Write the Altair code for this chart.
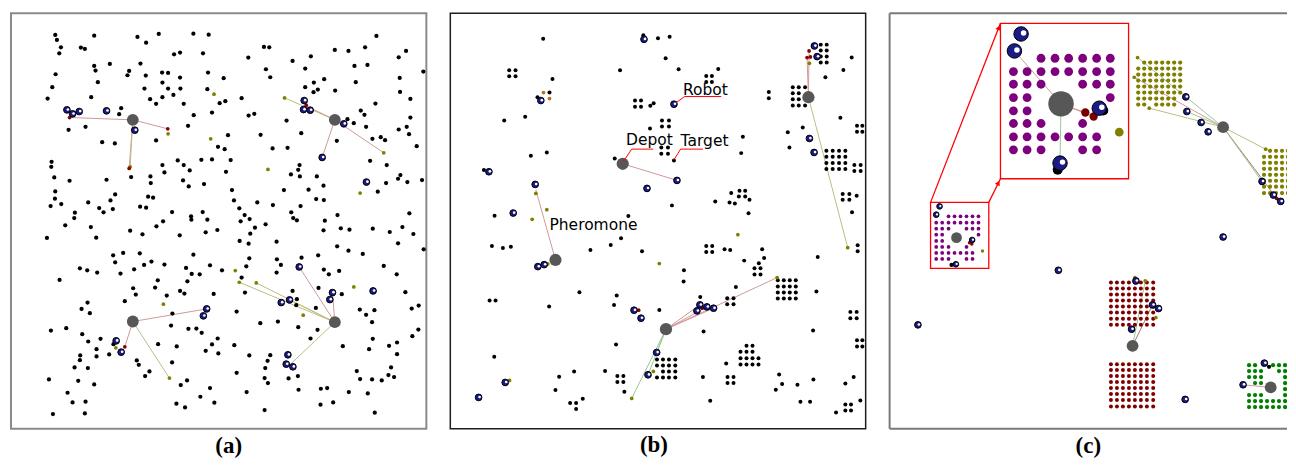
import math
import altair as alt
import pandas as pd

# Arena units: 3 units = 1 px. Panels are 1248 x 1248 units; panel (c) is cut at 1194 (the picture's edge).
W = 1248
H = 1248
WC = 1194

# ---------------- Panel (a) : random targets ----------------
A_DOTS = [
    (133,65),(138,80),(150,102),(145,120),(250,67),(210,103),(222,107),(380,71),(406,88),(444,62),(548,61),(594,64),
    (490,123),(508,118),(577,120),(297,152),(250,158),(254,172),(389,151),(355,173),(350,186),(405,187),(454,178),
    (472,179),(508,193),(134,183),(261,207),(124,222),(110,256),(241,252),(401,226),(455,208),(472,226),(509,226),
    (592,178),(590,228),(418,258),(436,272),(455,252),(488,245),(519,272),(627,270),(549,306),(604,298),(331,285),
    (325,303),(173,350),(224,341),(532,338),(274,387),(312,391),(436,382),(622,401),(122,446),(121,461),(455,456),
    (461,478),(501,442),(519,456),(537,472),(572,440),(604,439),(130,493),(176,503),(287,500),(361,492),(419,490),
    (420,510),(517,502),(534,520),(580,513),(133,535),(132,557),(119,579),(151,573),(313,544),(299,562),(232,568),
    (265,585),(278,598),(306,588),(388,581),(406,584),(412,551),(427,554),(192,599),(190,615),(484,597),(541,610),
    (542,620),(576,597),(590,620),(457,625),
    (1098,68),(760,101),(776,102),(713,133),(846,143),(901,129),(973,110),(1014,113),(1064,102),(1165,132),(1187,113),
    (766,168),(779,192),(884,166),(1032,158),(1071,155),(639,195),(1239,175),(910,208),(941,198),(884,222),(909,237),
    (922,229),(974,232),(1036,207),(1168,194),(1169,236),(1200,257),(693,255),(644,264),(714,307),(731,302),(828,322),
    (1051,292),(1062,305),(1011,318),(1030,330),(1067,341),(1095,271),(1200,313),(1165,349),(1189,341),(1196,363),
    (872,360),(750,365),(652,366),(979,383),(1086,377),(1111,372),(1124,381),(1219,399),(786,406),(831,404),(642,408),
    (660,441),(646,476),(1079,443),(1129,456),(867,456),(863,470),(841,484),(868,490),(919,490),(1170,486),(1163,497),
    (1191,507),(1235,501),(1127,510),(1102,536),(939,518),(894,530),(820,531),(664,531),(670,562),(740,568),(787,576),
    (870,579),(917,558),(940,561),(686,586),(702,606),(717,618),(690,625),(842,598),(848,615),(859,622),(981,606),
    (943,623),(1197,601),
    (163,637),(240,642),(358,653),(395,664),(437,640),(507,667),(585,658),(620,651),(108,675),(256,674),(307,727),
    (337,720),(387,721),(313,748),(329,782),(370,769),(400,756),(422,746),(461,755),(548,725),(526,765),(543,783),
    (567,784),(598,757),(207,766),(229,772),(259,779),(146,801),(530,805),(441,802),(433,824),(468,848),(508,834),
    (521,842),(609,843),(367,826),(375,845),(342,865),(230,869),(212,888),(237,901),(485,902),(166,946),(120,953),
    (214,964),(269,978),(232,986),(481,938),(533,948),(557,947),(573,960),(621,977),(604,995),(585,1014),(623,1022),
    (442,994),(498,1001),(257,1009),(257,1031),(208,1028),(207,1042),(295,1025),(308,994),(378,1043),(384,1056),
    (231,1066),(191,1064),(416,1076),(403,1090),(484,1049),(202,1104),(114,1100),(250,1115),(170,1140),(510,1117),
    (529,1103),(598,1126),(185,1169),(224,1167),(569,1152),(611,1170),(497,1173),(523,1184),(126,1204),(222,1202),
    (733,644),(765,634),(719,662),(939,652),(991,646),(1017,650),(1087,647),(1138,657),(1176,642),(1209,663),(687,684),
    (714,692),(798,686),(980,700),(1014,713),(1057,723),(1163,691),(1240,709),(634,772),(707,760),(716,736),(799,739),
    (811,756),(798,779),(873,734),(923,727),(940,770),(955,784),(986,774),(1120,759),(1159,784),(693,794),(703,839),
    (846,834),(859,859),(994,844),(924,825),(916,885),(857,877),(1048,890),(1067,906),(1092,892),(1085,928),
    (1185,838),(1204,887),(1225,878),(678,896),(749,931),(802,926),(863,943),(921,951),(900,977),(997,1000),(1087,978),
    (1076,1009),(1136,999),(1160,989),(1160,1024),(1206,970),(1224,950),(671,997),(716,1028),(779,1027),(771,1044),
    (764,1066),(678,1080),(762,1096),(772,1111),(862,1090),(834,1097),(864,1131),(931,1128),(950,1126),(1015,1138),
    (1039,1075),(1049,1099),(1085,1100),(1114,1103),(1134,1087),(1151,1093),(1142,1064),(1072,1142),(708,1138),
    (930,1176),(968,1169),(762,1192),(1093,1200),
]
A_ROBOTS = [(168,290),(185,302),(205,295),(287,293),(372,351),(881,262),(879,289),(899,291),(1000,332),(935,433),
            (1068,507),(316,984),(331,1018),(588,888),(578,909),(866,762),(966,839),(958,860),(837,861),(812,869),
            (1088,834),(832,1026),(827,1054),(847,1062)]
A_DEPOTS = [(366,320),(973,320),(366,926),(973,928)]
A_PHEROMONE = [(610,243),(472,362),(600,377),(358,461),(822,254),(772,469),(1120,419),(1049,540),(458,874),
               (476,1096),(315,1005),(674,773),(686,808),(737,810),(1030,822),(878,907)]
A_RED = [(176,313),(471,347),(355,466),(887,276),(342,1002)]
A_TRAILS = [
    (366,320,176,313,"red"),(366,320,471,347,"red"),(366,320,355,466,"red"),(366,320,358,461,"olive"),
    (973,320,822,254,"olive"),(973,320,881,275,"red"),(973,320,1120,419,"red"),(973,320,935,433,"red"),
    (366,926,588,888,"red"),(366,926,342,1002,"red"),(366,926,476,1096,"olive"),
    (973,928,866,762,"red"),(973,928,966,839,"red"),(973,928,686,808,"olive"),(973,928,737,810,"olive"),
    (973,928,837,861,"olive"),(973,928,840,1054,"olive"),
]

# ---------------- Panel (b) : clustered targets ----------------
B_DOTS = [
    (279,76),(177,171),(196,171),(177,189),(196,189),(307,197),(262,252),(298,238),(510,171),(555,262),(573,262),
    (555,281),(573,281),(601,278),(611,270),(600,346),(162,322),(225,311),(242,428),(290,418),(494,436),(101,471),
    (133,608),(535,609),(580,66),(624,75),
    (659,70),(647,135),(686,168),(805,167),(769,188),(786,188),(769,206),(786,206),(957,236),(957,255),(636,322),
    (657,322),(636,340),(657,340),(634,403),(654,403),(634,422),(654,422),(879,371),(874,420),(1014,357),(1059,343),
    (1019,403),(1172,314),(1206,133),(1181,170),(1127,192),(672,442),(666,577),(796,565),(839,568),(855,571),
    (844,540),(869,533),(886,533),(867,550),(886,550),(899,560),(896,601),(1179,543),(1199,543),(1179,560),(1199,560),
    (1221,548),(1207,598),
    (1029,222),(1047,222),(1066,222),(1029,240),(1047,240),(1029,258),(1047,258),(1029,277),(1047,277),(1066,277),
    (1113,94),(1131,94),(1113,112),(1131,112),(1113,130),(1131,130),(1113,148),(1131,148),
    (1130,413),(1149,413),(1168,413),(1187,413),(1130,431),(1149,431),(1168,431),(1187,431),
    (1130,450),(1149,450),(1168,450),(1187,450),(1130,468),(1149,468),(1168,468),(1187,468),
    (1214,456),(1233,456),(1214,474),(1233,474),(1222,338),(1238,338),(1222,356),(1238,356),
    (125,699),(158,705),(182,701),(421,711),(482,696),(513,676),(576,715),(118,863),(136,863),(297,881),(388,838),
    (500,848),(492,876),(628,891),(498,995),(132,1032),(372,1076),(465,1075),(327,1092),(316,1132),(502,1090),
    (520,1090),(502,1108),(520,1108),(523,1137),(360,1171),(378,1171),(378,1189),(398,1158),
    (621,1040),(639,1040),(657,1040),(676,1040),(621,1058),(639,1058),(657,1058),(676,1058),(639,1076),(657,1076),
    (676,1076),(621,1094),(639,1094),(657,1094),(676,1094),
    (769,699),(787,699),(769,717),(787,717),(824,709),(841,711),(937,709),(943,735),(927,751),(883,743),(914,766),
    (932,766),(914,785),(932,785),(702,772),(701,806),(751,852),(858,822),(832,856),(851,856),(832,874),(851,874),
    (761,956),(1104,732),(1100,836),(1090,953),(1224,697),(1224,715),(1202,897),(1221,897),(1202,916),(1221,916),
    (1222,982),(1238,982),(1222,1001),(1238,1001),(829,1052),(759,1093),(833,1093),(851,1093),(833,1111),(851,1111),
    (781,1164),(988,1085),(997,1114),(978,1131),(1043,1116),(1091,1100),(1052,1167),(1081,1167),(1212,1093),
    (1187,1112),(1232,1163),(1187,1175),(1204,1175),(1187,1193),(1204,1193),(1159,1199),
    (984,802),(1002,802),(1020,802),(1038,802),(984,821),(1002,821),(1020,821),(1038,821),
    (984,839),(1002,839),(1020,839),(1038,839),(984,857),(1002,857),(1020,857),(1038,857),
    (890,999),(908,999),(872,1017),(890,1017),(908,1017),(872,1036),(890,1036),(908,1036),(926,1036),
    (872,1055),(890,1055),(908,1055),(926,1055),
]
B_ROBOTS = [(582,78),(272,262),(116,476),(255,514),(189,600),(591,526),(672,273),(681,502),(1079,376),(1093,418),
            (1094,98),(1102,130),(263,761),(282,755),(165,1109),(85,1154),(552,892),(573,916),(620,1019),(594,1086),
            (750,876),(741,894),(771,882),(791,886)]
B_DEPOTS = [(518,452),(1076,252),(316,741),(648,949)]
B_PHEROMONE = [(257,541),(290,590),(246,619),(1079,150),(293,753),(178,1103),(610,1076),(545,1157),(628,752),
               (864,665),(982,794),(1194,704)]
B_RED = [(1078,113),(1072,133),(1082,131),(566,892),(757,886)]
B_BROWN = [(280,238),(298,256)]
B_TRAILS = [
    (518,452,681,502,"red"),(316,741,257,530,"red"),
    (1076,252,1078,113,"red"),(1076,252,1072,133,"red"),(1076,252,1194,704,"olive"),
    (648,949,982,794,"red"),(648,949,750,876,"red"),(648,949,771,882,"red"),(648,949,791,886,"red"),
    (648,949,545,1157,"green"),(648,949,594,1086,"green"),(648,949,620,1019,"green"),
]
B_LABELS = [("Robot",699,230),("Depot",528,382),("Target",692,385),("Pheromone",298,636)]
B_LEADERS = [
    ("Robot",[(679,268),(704,250),(814,250)]),
    ("Target",[(672,440),(692,408),(759,408)]),
    ("Depot",[(520,445),(545,408),(610,408)]),
]

# ---------------- Panel (c) : heterogeneous target clusters ----------------
C_MASK_PURPLE = ["00111111","11111111","11100111","11000001","11000000","11100100","11111110","11100110"]
C_INSET_COLS = [372,413,455,497,538,580,622,663]
C_INSET_ROWS = [135,175,213,253,293,331,371,410]
C_SMALL_COLS = [140,158,177,195,213,231,249,267]
C_SMALL_ROWS = [610,629,647,665,684,702,720,738]

C_MASK_OLIVE1 = ["01111111","11111111","11111111","11111111","11111111","11111111","11111110","11011110"]
C_OLIVE1_COLS = [747,765,783,801,819,837,855,873]
C_OLIVE1_ROWS = [148,166,184,202,220,238,256,274]
C_MASK_OLIVE2 = ["01111","11111","11111","11111","11111","11111","11111","11111"]
C_OLIVE2_COLS = [1125,1143,1161,1179,1197]
C_OLIVE2_ROWS = [413,431,449,467,485,503,521,540]
C_MAROON_COLS = [665,683,701,719,737,755,773,792]
C_MAROON1_ROWS = [809,827,845,863,881,899,918,936]
C_MAROON2_ROWS = [1054,1072,1090,1108,1126,1144,1162,1181]
C_MASK_GREEN = ["11001111","11100111","11100011","01100011","00000011","11100011","11111111","11111111"]
C_GREEN_COLS = [1080,1098,1116,1134,1152,1170,1188,1206]
C_GREEN_ROWS = [1057,1075,1093,1111,1129,1147,1165,1183]

C_ROBOTS = [(507,772),(85,936),(890,251),(893,295),(936,328),(957,356),(1119,505),(1153,546),(1175,565),
            (1002,672),(1212,814),(740,804),(790,876),(808,887),(727,949),(888,1160),(1126,1051),(1062,1116)]
C_DEPOTS = [(1002,342),(730,999),(1145,1124)]
C_PHEROMONE = [(745,133),(735,192),(780,285),(1130,408),(737,794),(768,804),(800,914)]
C_RED = [(1163,556)]
C_BLACK = [(1140,1062)]
C_TRAILS = [
    (1002,342,745,133,"green"),(1002,342,735,192,"red"),(1002,342,780,285,"olive"),(1002,342,893,295,"green"),
    (1002,342,1130,408,"olive"),(1002,342,1163,556,"brown"),(1002,342,1119,505,"green"),
    (730,999,768,804,"green"),(730,999,790,876,"brown"),(1145,1124,1062,1116,"red"),
    (201,674,199,754,"green"),(201,674,140,605,"red"),(201,674,240,689,"red"),
    (515,272,375,113,"red"),(515,272,512,440,"green"),(515,272,588,298,"red"),(515,272,613,310,"red"),
]
C_SMALL_DEPOT = [(201,674)]
C_SMALL_ROBOTS = [(248,681),(199,754),(150,580),(140,605)]
C_SMALL_BLACK = [(186,756)]
C_SMALL_RED = [(240,689),(247,693)]
C_SMALL_OLIVE = [(279,714)]
C_INSET_DEPOT = [(515,272)]
C_INSET_ROBOTS = [(395,62),(375,113),(512,450),(630,285)]
C_INSET_BLACK = [(505,470),(642,292)]
C_INSET_RED = [(588,298),(613,310)]
C_INSET_OLIVE = [(690,357)]
C_SMALL_BOX = [(123,568,298,766)]
C_INSET_BOX = [(333,30,718,497)]
C_CONNECTORS = [(123,568,333,30),(298,568,333,497)]

TRAIL_KINDS = ["red","olive","green","brown"]
TRAIL_COLORS = ["#d09a9a","#bdbd84","#96c896","#a87a5a"]
NAVY = "#1b1b85"


def pts(lst):
    return pd.DataFrame(lst, columns=["x","y"])


def X(xmax):
    return alt.X("x:Q", scale=alt.Scale(domain=[0, xmax], nice=False, zero=False), axis=None)


def Y():
    return alt.Y("y:Q", scale=alt.Scale(domain=[0, H], nice=False, zero=False, reverse=True), axis=None)


def dots(lst, xmax, color, size, clip=False):
    return alt.Chart(pts(lst)).mark_circle(color=color, size=size, opacity=1, clip=clip).encode(x=X(xmax), y=Y())


def robots(lst, xmax, size, hl, off, clip=False):
    df = pts(lst)
    body = alt.Chart(df).mark_point(shape="circle", filled=True, fill=NAVY, stroke="#000000",
                                    strokeWidth=1, size=size, opacity=1, clip=clip).encode(x=X(xmax), y=Y())
    hi = alt.Chart(df).mark_circle(color="white", size=hl, opacity=1, xOffset=off, yOffset=-off * 0.4,
                                   clip=clip).encode(x=X(xmax), y=Y())
    return [body, hi]


def trails(lst, xmax, width=1.0, clip=False):
    df = pd.DataFrame(lst, columns=["x","y","x2","y2","kind"])
    return alt.Chart(df).mark_rule(strokeWidth=width, clip=clip).encode(
        x=X(xmax), y=Y(), x2="x2:Q", y2="y2:Q",
        color=alt.Color("kind:N", scale=alt.Scale(domain=TRAIL_KINDS, range=TRAIL_COLORS), legend=None))


def frame(xmax, color, width):
    df = pd.DataFrame({"x":[0], "y":[0], "x2":[W], "y2":[H]})
    return alt.Chart(df).mark_rect(fillOpacity=0, stroke=color, strokeWidth=width).encode(
        x=X(xmax), y=Y(), x2="x2:Q", y2="y2:Q")


def grid(cols, rows, mask=None):
    out = []
    for r, yv in enumerate(rows):
        for c, xv in enumerate(cols):
            if mask is None or mask[r][c] == "1":
                out.append((xv, yv))
    return out


def caption(text, dx):
    return alt.TitleParams(text, orient="bottom", anchor="middle", font="Liberation Serif", fontSize=23,
                           fontWeight="bold", color="#000000", offset=5, dx=dx)


# ----- panel a
pa = alt.layer(
    frame(W, "#8a8a8a", 2),
    trails(A_TRAILS, W),
    dots(A_DOTS, W, "#000000", 18),
    dots(A_PHEROMONE, W, "#808000", 14),
    dots(A_RED, W, "#8b0000", 14),
    dots(A_DEPOTS, W, "#575757", 140),
    *robots(A_ROBOTS, W, 45, 7, 1.0),
).properties(width=416, height=416, title=caption("(a)", 10))

# ----- panel b
lab_df = pd.DataFrame(B_LABELS, columns=["text","x","y"])
lead_rows = []
for name, seg in B_LEADERS:
    for i, (xv, yv) in enumerate(seg):
        lead_rows.append({"lab": name, "o": i, "x": xv, "y": yv})
lead_df = pd.DataFrame(lead_rows)

pb = alt.layer(
    frame(W, "#1e1e1e", 1.5),
    trails(B_TRAILS, W),
    dots(B_DOTS, W, "#000000", 16),
    dots(B_PHEROMONE, W, "#808000", 14),
    dots(B_RED, W, "#8b0000", 14),
    dots(B_BROWN, W, "#b5731f", 14),
    dots(B_DEPOTS, W, "#575757", 150),
    *robots(B_ROBOTS, W, 45, 7, 1.0),
    alt.Chart(lead_df).mark_line(color="#ff0000", strokeWidth=1).encode(x=X(W), y=Y(), detail="lab:N", order="o:Q"),
    alt.Chart(lab_df).mark_text(font="DejaVu Sans", fontSize=15.5, align="left", baseline="middle",
                                color="#000000").encode(x=X(W), y=Y(), text="text:N"),
).properties(width=416, height=416, title=caption("(b)", -4))

# ----- panel c
border_df = pd.DataFrame({"x":[0, 0, 0], "y":[0, 0, H], "x2":[WC, 0, WC], "y2":[0, H, H]})
small_box = pd.DataFrame(C_SMALL_BOX, columns=["x","y","x2","y2"])
inset_box = pd.DataFrame(C_INSET_BOX, columns=["x","y","x2","y2"])
conn_df = pd.DataFrame(C_CONNECTORS, columns=["x","y","x2","y2"])
heads = []
for x0, y0, x1, y1 in C_CONNECTORS:
    dxp, dyp = x1 - x0, y1 - y0
    ln = math.hypot(dxp, dyp)
    ang = math.degrees(math.atan2(dxp, -dyp)) % 360
    heads.append({"x": x1 - dxp / ln * 14, "y": y1 - dyp / ln * 14, "a": ang})
head_df = pd.DataFrame(heads)

pc = alt.layer(
    alt.Chart(border_df).mark_rule(color="#7a7a7a", strokeWidth=2).encode(x=X(WC), y=Y(), x2="x2:Q", y2="y2:Q"),
    trails([t for t in C_TRAILS if t[0] > 700 or t[1] > 600], WC, clip=True),
    alt.Chart(conn_df).mark_rule(color="#ff0000", strokeWidth=1.3).encode(x=X(WC), y=Y(), x2="x2:Q", y2="y2:Q"),
    alt.Chart(head_df).mark_point(shape="triangle-up", filled=True, color="#ff0000", size=30, opacity=1).encode(
        x=X(WC), y=Y(), angle=alt.Angle("a:Q", scale=None)),
    alt.Chart(small_box).mark_rect(fill="#ffffff", stroke="#ff0000", strokeWidth=1.3).encode(
        x=X(WC), y=Y(), x2="x2:Q", y2="y2:Q"),
    alt.Chart(inset_box).mark_rect(fill="#ffffff", stroke="#ff0000", strokeWidth=1.3).encode(
        x=X(WC), y=Y(), x2="x2:Q", y2="y2:Q"),
    trails([t for t in C_TRAILS if t[0] < 700 and t[1] < 600], WC, width=1.0),
    dots(grid(C_SMALL_COLS, C_SMALL_ROWS, C_MASK_PURPLE), WC, "#7d007d", 14),
    dots(grid(C_INSET_COLS, C_INSET_ROWS, C_MASK_PURPLE), WC, "#7d007d", 78),
    dots(grid(C_OLIVE1_COLS, C_OLIVE1_ROWS, C_MASK_OLIVE1), WC, "#808000", 18, clip=True),
    dots(grid(C_OLIVE2_COLS, C_OLIVE2_ROWS, C_MASK_OLIVE2), WC, "#808000", 18, clip=True),
    dots(grid(C_MAROON_COLS, C_MAROON1_ROWS), WC, "#800000", 16, clip=True),
    dots(grid(C_MAROON_COLS, C_MAROON2_ROWS), WC, "#800000", 16, clip=True),
    dots(grid(C_GREEN_COLS, C_GREEN_ROWS, C_MASK_GREEN), WC, "#008000", 18, clip=True),
    dots(C_PHEROMONE, WC, "#808000", 14, clip=True),
    dots(C_RED, WC, "#8b0000", 14, clip=True),
    dots(C_SMALL_RED, WC, "#8b0000", 12),
    dots(C_SMALL_OLIVE, WC, "#808000", 12),
    dots(C_INSET_RED, WC, "#7a0000", 70),
    dots(C_INSET_OLIVE, WC, "#808000", 75),
    dots(C_DEPOTS, WC, "#575757", 140, clip=True),
    dots(C_SMALL_DEPOT, WC, "#575757", 115),
    dots(C_INSET_DEPOT, WC, "#575757", 650),
    dots(C_BLACK + C_SMALL_BLACK, WC, "#000000", 18, clip=True),
    dots(C_INSET_BLACK, WC, "#000000", 100),
    *robots(C_ROBOTS, WC, 45, 7, 1.0, clip=True),
    *robots(C_SMALL_ROBOTS, WC, 32, 5, 0.8),
    *robots(C_INSET_ROBOTS, WC, 210, 30, 2.5),
).properties(width=398, height=416, title=caption("(c)", 0))

chart = alt.hconcat(pa, pb, pc, spacing=24, bounds="flush").properties(
    padding={"left": 2, "top": 4, "right": 0, "bottom": 0}
).configure_view(stroke="transparent", strokeWidth=0, strokeOpacity=0)

chart.save("out.html", embed_options={"renderer": "svg", "actions": False})
